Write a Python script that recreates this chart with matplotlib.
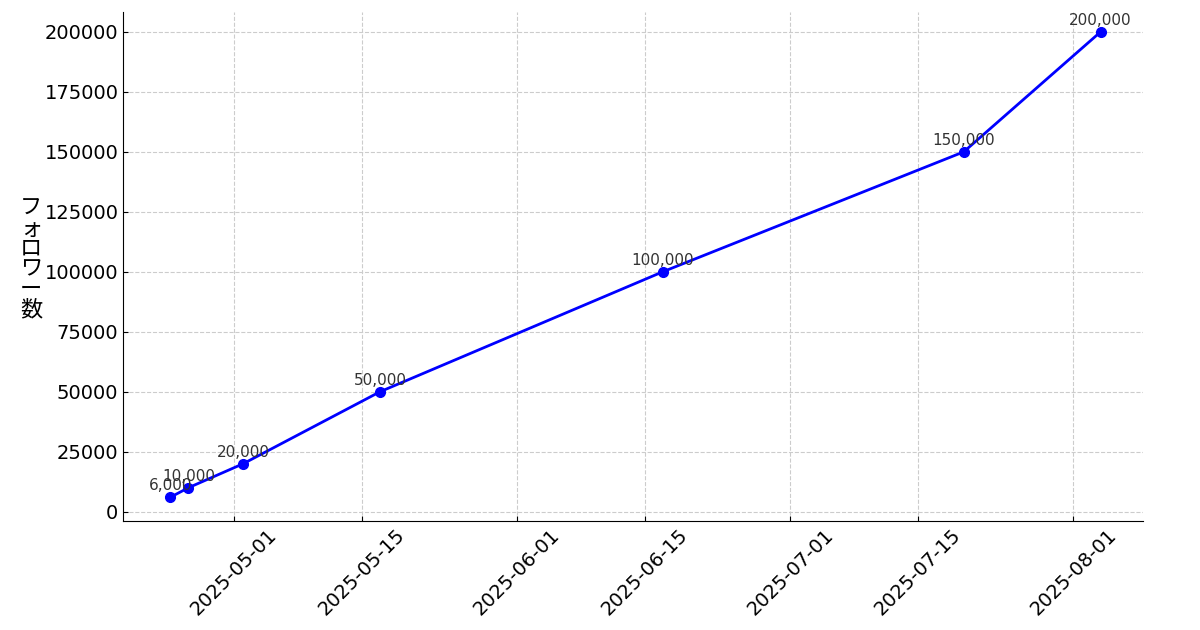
import matplotlib
matplotlib.use("Agg")
import matplotlib.pyplot as plt
import matplotlib.dates as mdates
import pandas as pd

plt.rcParams['font.family'] = ['DejaVu Sans', 'Noto Sans CJK JP']

dates = ["2025-04-24", "2025-04-26", "2025-05-02", "2025-05-17",
         "2025-06-17", "2025-07-20", "2025-08-04"]
followers = [6000, 10000, 20000, 50000, 100000, 150000, 200000]
ylabel = "フォロワー数"

x = pd.to_datetime(dates)

fig, ax = plt.subplots(figsize=(12, 6.3), dpi=100)
ax.plot(x, followers, color='blue', marker='o', linewidth=2, markersize=7)

# ラベル
for d, v in zip(x, followers):
    ax.annotate(f"{v:,}", (d, v), xytext=(0, 5), textcoords='offset points',
                ha='center', fontsize=11, color='#333333', family='DejaVu Sans')

ax.set_ylabel("\n".join(ylabel), rotation=0, fontsize=16, va='center', ha='center',
              family=['Noto Sans CJK JP', 'DejaVu Sans'], linespacing=0.85)
ax.yaxis.set_label_coords(-0.0905, 0.515)
ax.xaxis.set_major_formatter(mdates.DateFormatter('%Y-%m-%d'))
ax.tick_params(axis='both', direction='in', labelsize=14)
plt.setp(ax.get_xticklabels(), rotation=45)
ax.grid(True, linestyle='--', color='#cccccc', linewidth=0.8)
ax.spines['top'].set_visible(False)
ax.spines['right'].set_visible(False)
ax.set_xlim(pd.Timestamp("2025-04-18 20:40"), pd.Timestamp("2025-08-08 15:00"))
ax.set_ylim(-3750, 208300)

fig.subplots_adjust(left=0.1028, right=0.9523, top=0.981, bottom=0.1735)
plt.savefig("out.png")
